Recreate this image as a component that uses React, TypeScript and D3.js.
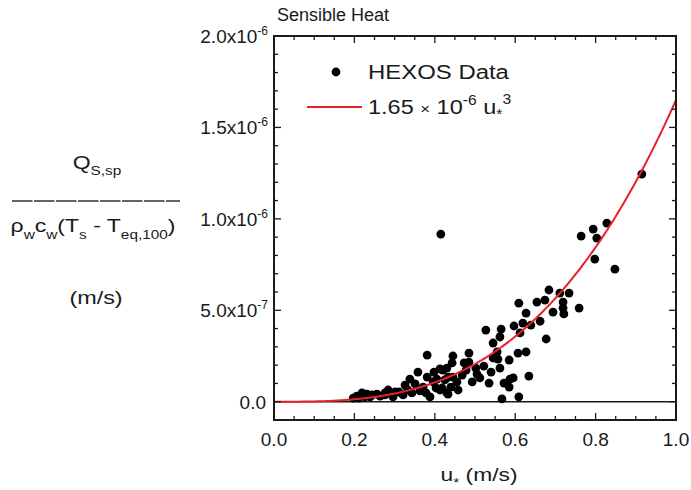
import React from 'react';
import * as d3 from 'd3';

// HEXOS data: friction velocity u* (m/s) and normalized sensible heat flux (units of 1e-6 m/s)
const uStar = [
  0.197, 0.206, 0.219, 0.226, 0.239, 0.244, 0.256, 0.276, 0.276, 0.296,
  0.311, 0.321, 0.326, 0.338, 0.351, 0.358, 0.371, 0.378, 0.381, 0.381,
  0.388, 0.396, 0.398, 0.413, 0.413, 0.415, 0.420, 0.418, 0.430, 0.430,
  0.433, 0.433, 0.443, 0.445, 0.445, 0.455, 0.458, 0.473, 0.485, 0.485,
  0.502, 0.505, 0.493, 0.527, 0.535, 0.545, 0.545, 0.555, 0.557, 0.562,
  0.565, 0.562, 0.567, 0.572, 0.585, 0.585, 0.587, 0.595, 0.597, 0.607,
  0.609, 0.609, 0.612, 0.619, 0.627, 0.627, 0.634, 0.639, 0.654, 0.662,
  0.674, 0.677, 0.684, 0.694, 0.711, 0.719, 0.719, 0.721, 0.734, 0.759,
  0.764, 0.794, 0.803, 0.798, 0.828, 0.848, 0.915,
  0.284, 0.301, 0.333, 0.343, 0.363, 0.403, 0.405, 0.425, 0.440, 0.468,
  0.478, 0.512, 0.522, 0.540, 0.264, 0.211, 0.231
];
const fluxMicro = [
  0.020, 0.031, 0.048, 0.026, 0.026, 0.037, 0.042, 0.048, 0.037, 0.026,
  0.053, 0.037, 0.091, 0.124, 0.097, 0.162, 0.080, 0.048, 0.255, 0.135,
  0.026, 0.108, 0.162, 0.179, 0.064, 0.917, 0.173, 0.075, 0.184, 0.048,
  0.135, 0.042, 0.212, 0.250, 0.135, 0.108, 0.064, 0.212, 0.266, 0.217,
  0.184, 0.151, 0.108, 0.392, 0.102, 0.321, 0.239, 0.272, 0.233, 0.354,
  0.397, 0.184, 0.015, 0.102, 0.228, 0.080, 0.124, 0.130, 0.414, 0.266,
  0.539, 0.026, 0.376, 0.430, 0.485, 0.272, 0.140, 0.419, 0.545, 0.440,
  0.556, 0.343, 0.611, 0.490, 0.594, 0.545, 0.512, 0.480, 0.594, 0.512,
  0.906, 0.944, 0.895, 0.780, 0.977, 0.725, 1.245,
  0.064, 0.053, 0.064, 0.048, 0.059, 0.075, 0.124, 0.119, 0.080, 0.146,
  0.173, 0.130, 0.195, 0.162, 0.031, 0.020, 0.042
];

const xTicks = [0.0, 0.2, 0.4, 0.6, 0.8, 1.0];
const xTickLabels = ['0.0', '0.2', '0.4', '0.6', '0.8', '1.0'];
const yTicks = [0, 0.5e-6, 1.0e-6, 1.5e-6, 2.0e-6];
const yTickMantissa = ['0.0', '5.0x10', '1.0x10', '1.5x10', '2.0x10'];
const yTickExponent = ['', '-7', '-6', '-6', '-6'];
const fitCoef = 1.65e-6;

const FONT = '"Liberation Sans", Arial, Helvetica, sans-serif';
const RED = '#e5222b';
const INK = '#1a1a1a';

export default function App() {
  const W = 691, H = 490;
  const left = 274, right = 676, top = 36, bottom = 420;
  const x = d3.scaleLinear().domain([0, 1]).range([left, right]);
  const y = d3.scaleLinear().domain([-0.1e-6, 2.0e-6]).range([bottom, top]);

  const xMinor = d3.range(0, 1.0001, 0.05);
  const yMinor = d3.range(-1, 21, 1).map(k => k * 0.1e-6);
  const isMajorX = (v: number) => Math.abs(v * 5 - Math.round(v * 5)) < 1e-6;
  const isMajorY = (v: number) => Math.abs(v / 0.5e-6 - Math.round(v / 0.5e-6)) < 1e-6;

  const fitPts = d3.range(0, 1.0001, 0.005).map(u => [u, fitCoef * u * u * u] as [number, number]);
  const line = d3.line<[number, number]>().x(d => x(d[0])).y(d => y(d[1]));

  const points = uStar.map((u, i) => ({ u, v: fluxMicro[i] * 1e-6 }));

  return (
    <svg width={W} height={H} style={{ position: 'absolute', left: 0, top: 0, background: '#fff' }}
      fontFamily={FONT}>
      <rect x={0} y={0} width={W} height={H} fill="#fff" />
      {/* title */}
      <text x={277} y={21} fontSize={18} fill={INK}>Sensible Heat</text>

      {/* zero line */}
      <line x1={left} x2={right} y1={y(0)} y2={y(0)} stroke={INK} strokeWidth={1.5} />

      {/* data points */}
      {points.map((p, i) => (
        <circle key={i} cx={x(p.u)} cy={y(p.v)} r={4.4} fill="#000" />
      ))}

      {/* fit curve */}
      <clipPath id="plotclip"><rect x={left} y={top} width={right - left} height={bottom - top} /></clipPath>
      <path d={line(fitPts) || ''} fill="none" stroke={RED} strokeWidth={2} clipPath="url(#plotclip)" />

      {/* ticks */}
      {xMinor.map((v, i) => {
        const len = isMajorX(v) ? 7 : 4;
        return (
          <g key={'xt' + i}>
            <line x1={x(v)} x2={x(v)} y1={bottom} y2={bottom - len} stroke={INK} strokeWidth={1.3} />
            <line x1={x(v)} x2={x(v)} y1={top} y2={top + len} stroke={INK} strokeWidth={1.3} />
          </g>
        );
      })}
      {yMinor.map((v, i) => {
        const len = isMajorY(v) ? 7 : 4;
        return (
          <g key={'yt' + i}>
            <line x1={left} x2={left + len} y1={y(v)} y2={y(v)} stroke={INK} strokeWidth={1.3} />
            <line x1={right} x2={right - len} y1={y(v)} y2={y(v)} stroke={INK} strokeWidth={1.3} />
          </g>
        );
      })}

      {/* frame */}
      <rect x={left} y={top} width={right - left} height={bottom - top} fill="none" stroke={INK} strokeWidth={2} />

      {/* x tick labels */}
      {xTicks.map((v, i) => (
        <text key={'xl' + i} x={x(v)} y={446} fontSize={19} textAnchor="middle" fill={INK}>{xTickLabels[i]}</text>
      ))}
      {/* y tick labels */}
      {yTicks.map((v, i) => (
        <text key={'yl' + i} x={yTickExponent[i] ? 268 : 266} y={y(v) + 6.8} fontSize={19} textAnchor="end" fill={INK}>
          {yTickMantissa[i]}
          {yTickExponent[i] ? <tspan dy={-8} fontSize={12}>{yTickExponent[i]}</tspan> : null}
        </text>
      ))}

      {/* x axis label */}
      <g transform="translate(479,481) scale(1.2,1)">
        <text x={0} y={0} fontSize={19} textAnchor="middle" fill={INK}>
          u<tspan dy={6} fontSize={13}>*</tspan><tspan dy={-6}> (m/s)</tspan>
        </text>
      </g>

      {/* y axis label (fraction) */}
      <g transform="translate(97,169) scale(1.28,1)">
        <text x={0} y={0} fontSize={18} textAnchor="middle" fill={INK}>
          Q<tspan dy={6} fontSize={12}>S,sp</tspan>
        </text>
      </g>
      <line x1={12} x2={180} y1={201} y2={201} stroke="#333" strokeWidth={1.6} strokeDasharray="20.5,1.5" />
      <g transform="translate(93,232) scale(1.28,1)">
        <text x={0} y={0} fontSize={18} textAnchor="middle" fill={INK}>
          ρ<tspan dy={7} fontSize={12}>w</tspan><tspan dy={-7}>c</tspan><tspan dy={7} fontSize={12}>w</tspan><tspan dy={-7}>(T</tspan><tspan dy={7} fontSize={12}>s</tspan><tspan dy={-7}> - T</tspan><tspan dy={7} fontSize={12}>eq,100</tspan><tspan dy={-7}>)</tspan>
        </text>
      </g>
      <g transform="translate(96,304) scale(1.3,1)">
        <text x={0} y={0} fontSize={18} textAnchor="middle" fill={INK}>(m/s)</text>
      </g>

      {/* legend */}
      <circle cx={336} cy={72} r={4.4} fill="#000" />
      <g transform="translate(368,79) scale(1.14,1)">
        <text x={0} y={0} fontSize={21} fill={INK}>HEXOS Data</text>
      </g>
      <line x1={307} x2={362} y1={107} y2={107} stroke={RED} strokeWidth={2} />
      <g transform="translate(368,114) scale(1.12,1)">
        <text x={0} y={0} fontSize={21} fill={INK}>
          1.65 <tspan fontSize={15}>×</tspan> 10<tspan dy={-9} fontSize={14}>-6</tspan><tspan dy={9}> u</tspan><tspan dy={5} fontSize={14}>*</tspan><tspan dy={-15} fontSize={14}>3</tspan>
        </text>
      </g>
    </svg>
  );
}
